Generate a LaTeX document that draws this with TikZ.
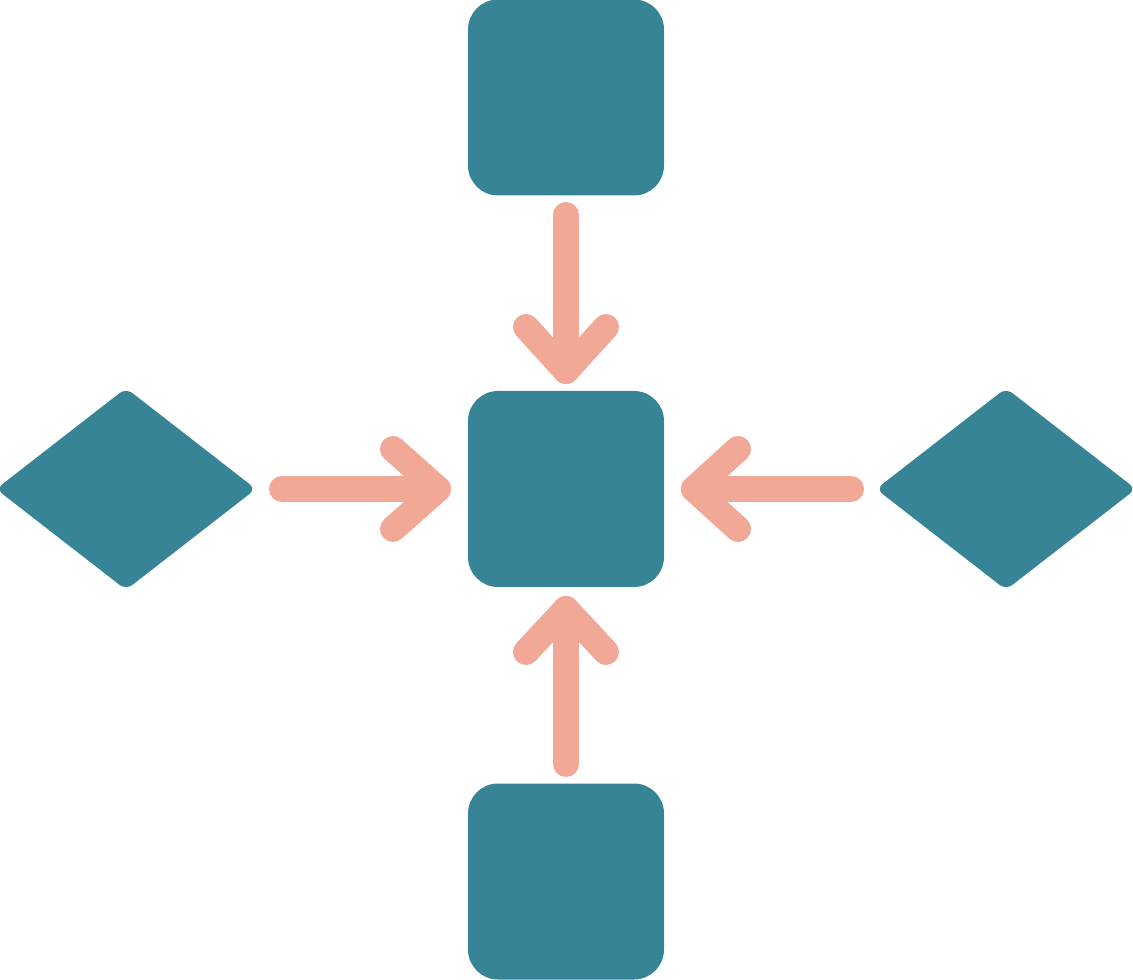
\documentclass[tikz,border=0pt]{standalone}
\usetikzlibrary{shapes.geometric}
\definecolor{teal}{HTML}{388497}
\definecolor{salmon}{HTML}{F2A896}
\newlength\uu
\setlength\uu{0.75pt}
\begin{document}
\begin{tikzpicture}[x=0.75pt,y=-0.75pt,
  sq/.style={fill=teal,draw=none,rectangle,rounded corners=30\uu,minimum width=196\uu,minimum height=196\uu,inner sep=0pt},
  dia/.style={fill=teal,draw=none,diamond,rounded corners=8\uu,minimum width=260\uu,minimum height=202\uu,inner sep=0pt},
  conn/.style={draw=salmon,line width=26\uu,line cap=round,line join=round}]
\useasboundingbox (0,0) rectangle (1133,980);
\node[sq] (top) at (566,97.5) {};
\node[sq] (mid) at (566,489) {};
\node[sq] (bot) at (566,881.5) {};
\node[dia] (left) at (126,489) {};
\node[dia] (right) at (1006,489) {};
% down arrow
\coordinate (ta) at (566,215);
\coordinate (tb) at (566,371);
\draw[conn] (ta) -- (tb);
\draw[conn] (tb) ++(-40,-44) -- (tb) -- ++(40,-44);
% up arrow
\coordinate (ba) at (566,764);
\coordinate (bb) at (566,609);
\draw[conn] (ba) -- (bb);
\draw[conn] (bb) ++(-40,43) -- (bb) -- ++(40,43);
% right arrow
\coordinate (la) at (282,489);
\coordinate (lb) at (438,489);
\draw[conn] (la) -- (lb);
\draw[conn] (lb) ++(-45,-40) -- (lb) -- ++(-45,40);
% left arrow
\coordinate (ra) at (851,489);
\coordinate (rb) at (694,489);
\draw[conn] (ra) -- (rb);
\draw[conn] (rb) ++(44,-40) -- (rb) -- ++(44,40);
\end{tikzpicture}
\end{document}
